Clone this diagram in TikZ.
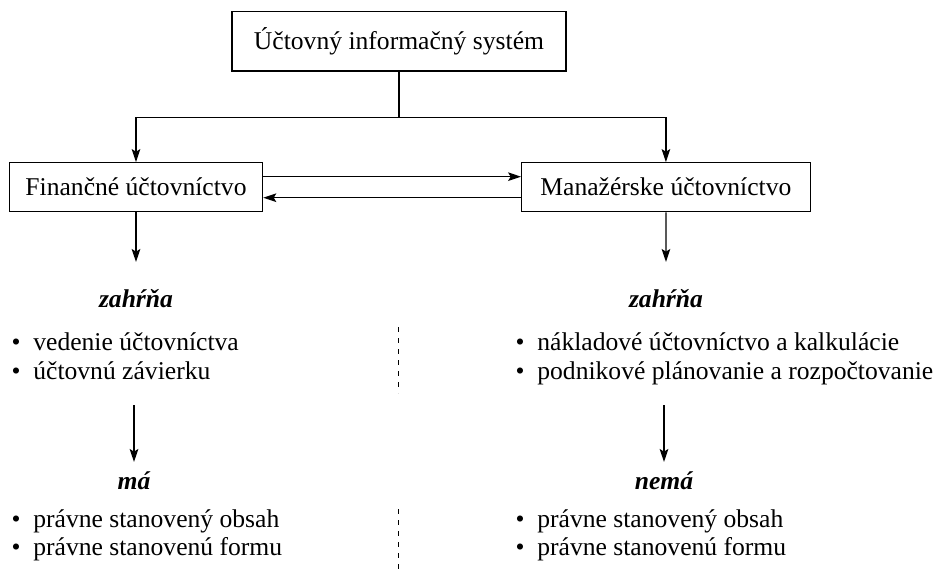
\documentclass[tikz,border=0pt]{standalone}
\usepackage{fontspec}
\setmainfont{Liberation Serif}
\usetikzlibrary{positioning, arrows.meta}
\tikzset{>={Stealth[length=6.5pt, width=4.3pt, inset=1.3pt]}}

\begin{document}
\begin{tikzpicture}[x=0.5pt, y=-0.5pt, line width=0.6pt,
  font=\fontsize{12.8}{14}\selectfont,
  box/.style={draw, minimum height=24.5pt, inner sep=0pt},
  head/.style={anchor=base, inner sep=0pt, font=\fontsize{12.8}{14}\selectfont\bfseries\itshape},
  item/.style={anchor=base west, inner sep=0pt},
  sep/.style={line width=0.5pt, dash pattern=on 2.3pt off 3.2pt}]
\useasboundingbox (0,0) rectangle (939,573);
% boxes
\node[box, minimum width=167pt, minimum height=29.7pt] (sys) at (399,41.3) {Účtovný informačný systém};
\node[box, minimum width=126.7pt] (fin) at (136,187.2) {Finančné účtovníctvo};
\node[box, minimum width=144.2pt] (man) at (665.9,187.2) {Manažérske účtovníctvo};
\draw (sys.south) -- ++(0,45.6) coordinate (split);
\draw[->] (split) -| (fin.north);
\draw[->] (split) -| (man.north);
\draw[->] ([yshift=5.25pt]fin.east) -- ([yshift=5.25pt]man.west);
\draw[->] ([yshift=-5.25pt]man.west) -- ([yshift=-5.25pt]fin.east);
% zahrna
\node[head] (zl) at (136,307) {zahŕňa};
\node[head] (zr) at (666,307) {zahŕňa};
\draw[->] (fin.south) -- ([yshift=22.5pt]zl.base);
\draw[->] (man.south) -- ([yshift=22.5pt]zr.base);
\node[item] (fi1) at (11,350.5) {\textbullet\ \ vedenie účtovníctva};
\node[item] (fi2) at (11,379) {\textbullet\ \ účtovnú závierku};
\node[item] (mi1) at (515,350.5) {\textbullet\ \ nákladové účtovníctvo a kalkulácie};
\node[item] (mi2) at (515,379) {\textbullet\ \ podnikové plánovanie a rozpočtovanie};
\draw[sep] (398,327) -- (398,393);
% ma / nema
\node[head] (ml) at (134,489) {má};
\node[head] (mr) at (664,489) {nemá};
\draw[->] ([yshift=-13pt]fi2.base -| ml.base) -- ([yshift=13.5pt]ml.base);
\draw[->] ([yshift=-13pt]mi2.base -| mr.base) -- ([yshift=13.5pt]mr.base);
\node[item] (fp1) at (11,527) {\textbullet\ \ právne stanovený obsah};
\node[item] (fp2) at (11,555) {\textbullet\ \ právne stanovenú formu};
\node[item] (mp1) at (515,527) {\textbullet\ \ právne stanovený obsah};
\node[item] (mp2) at (515,555) {\textbullet\ \ právne stanovenú formu};
\draw[sep] (398,509) -- (398,573);
\end{tikzpicture}
\end{document}
